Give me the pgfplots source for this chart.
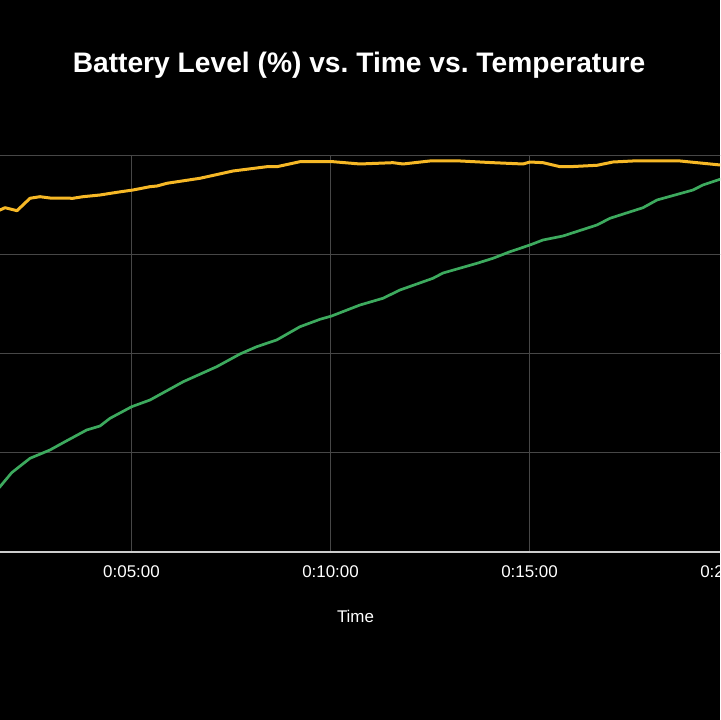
\documentclass[border=0pt]{standalone}
\usepackage{pgfplots}
\pgfplotsset{compat=1.18}
\usepackage{fontspec}
\setmainfont{Liberation Sans}
\frenchspacing
\definecolor{ylw}{HTML}{F6B826}
\definecolor{grn}{HTML}{3DAA5E}
\definecolor{gridc}{HTML}{474747}
\definecolor{axc}{HTML}{CCCCCC}
\pgfplotstableread{
t v
1.40 13.0
1.696 16.49
1.990 20.03
2.450 23.66
2.952 25.76
3.329 27.85
3.874 30.81
4.209 31.82
4.460 33.76
5.005 36.69
5.465 38.38
6.302 43.01
7.141 46.79
7.726 50.00
8.146 51.84
8.648 53.54
9.234 56.89
9.736 58.76
10.030 59.60
10.741 62.37
11.319 64.07
11.746 66.16
12.575 69.12
12.827 70.45
13.681 72.90
14.083 74.17
14.510 75.83
15.013 77.53
15.339 78.79
15.842 79.80
16.696 82.58
17.023 84.27
17.852 86.94
18.204 88.89
19.108 91.41
19.359 92.68
19.786 94.12
20.200 95.50
}\greendata
\pgfplotstableread{
t v
1.40 86.0
1.696 86.36
1.822 86.94
2.123 86.19
2.450 89.32
2.701 89.72
2.952 89.39
3.530 89.32
3.781 89.72
4.209 90.15
4.636 90.83
5.038 91.41
5.465 92.25
5.641 92.42
5.892 93.11
6.721 94.37
7.550 96.21
8.405 97.30
8.656 97.30
9.234 98.56
10.063 98.56
10.741 97.98
11.570 98.31
11.821 97.98
12.500 98.74
13.254 98.74
14.083 98.31
14.837 97.98
15.013 98.48
15.339 98.31
15.766 97.30
16.018 97.30
16.696 97.65
17.098 98.48
17.600 98.74
18.781 98.74
19.786 97.73
20.200 97.30
}\yellowdata
\begin{document}
\begin{tikzpicture}[x=1bp,y=1bp]
\useasboundingbox (0,0) rectangle (720,720);
\fill[black] (0,0) rectangle (720,720);
\clip (0,0) rectangle (720,720);
\begin{axis}[
  at={(-67.5bp,168bp)}, anchor=south west,
  scale only axis, width=835.8bp, height=396bp,
  xmin=0, xmax=21, ymin=0, ymax=100,
  axis x line*=bottom, axis y line*=left,
  axis line style={-},
  x axis line style={draw=axc, line width=1.5bp},
  y axis line style={draw=none},
  xtick={5,10,15,20},
  xticklabels={0:05:00,0:10:00,0:15:00,0:20:00},
  ytick={25,50,75,100},
  yticklabels={},
  major tick length=0pt,
  grid=major,
  major grid style={draw=gridc, line width=1bp},
  tick label style={text=white, font=\fontsize{17}{20}\selectfont},
  xticklabel style={inner sep=0pt, anchor=north, yshift=-13bp},
]
\addplot[grn, line width=2.7bp, line join=round] table[x=t,y=v] {\greendata};
\addplot[ylw, line width=3bp, line join=round] table[x=t,y=v] {\yellowdata};
\end{axis}
\node[anchor=base, text=white, font=\bfseries\fontsize{28.3}{34}\selectfont] at (359,647.7) {Battery Level (\%) vs. Time vs. Temperature};
\node[anchor=base, text=white, font=\fontsize{17}{20}\selectfont] at (355.5,97.3) {Time};
\end{tikzpicture}
\end{document}
